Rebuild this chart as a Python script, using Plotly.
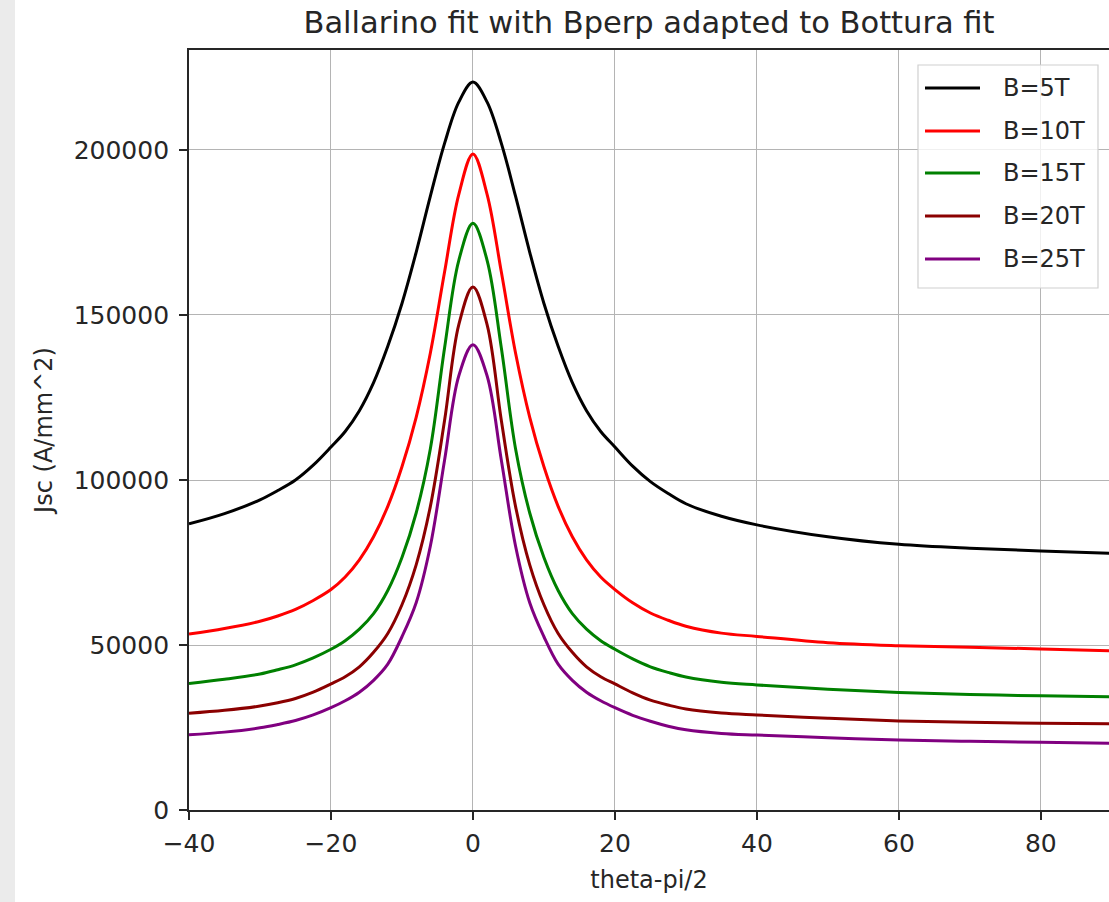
import plotly.graph_objects as go

theta = [-40, -35, -30, -27.5, -25, -22.5, -20, -18, -16, -14, -12, -10, -8, -6, -4, -2, 0,
         2, 4, 6, 8, 10, 12, 14, 16, 18, 20, 22.5, 25, 27.5, 30, 35, 40, 50, 60, 70, 80, 90]

jsc_5T = [86700, 89800, 94000, 96800, 100000, 104500, 110000, 114700, 121000, 129500, 140500, 153500, 169000, 186000, 202000, 214500, 220600,
          214500, 202000, 186000, 169000, 153500, 140500, 129500, 121000, 114700, 110000, 104200, 99500, 95900, 92800, 89000, 86400,
          82800, 80500, 79300, 78500, 77800]
jsc_10T = [53300, 55000, 57200, 58800, 60800, 63500, 66800, 70600, 75800, 82800, 92000, 104000, 119000, 138500, 163000, 186500, 198800,
           186500, 163000, 138500, 119000, 104000, 92000, 82800, 75800, 70600, 66800, 62800, 59700, 57500, 55700, 53600, 52600,
           50700, 49800, 49300, 48800, 48200]
jsc_15T = [38300, 39600, 41200, 42500, 44000, 46100, 48700, 51300, 54800, 59500, 66500, 76500, 90000, 109500, 140000, 166500, 177800,
           166500, 140000, 109500, 90000, 76500, 66500, 59500, 54800, 51300, 48700, 45800, 43400, 41700, 40300, 38700, 37900,
           36600, 35600, 35000, 34600, 34300]
jsc_20T = [29300, 30200, 31500, 32500, 33800, 35700, 38200, 40400, 43400, 47800, 53500, 62200, 74300, 92000, 118000, 147000, 158500,
           147000, 118000, 92000, 74300, 62200, 53500, 47800, 43400, 40400, 38200, 35500, 33300, 31800, 30600, 29400, 28800,
           27800, 27000, 26600, 26300, 26100]
jsc_25T = [22800, 23600, 24900, 25900, 27100, 28800, 31000, 33100, 35700, 39300, 44200, 52500, 62800, 80000, 106000, 131500, 141000,
           131500, 106000, 80000, 62800, 52500, 44200, 39300, 35700, 33100, 31000, 28700, 26900, 25400, 24300, 23200, 22700,
           21900, 21200, 20800, 20500, 20200]

series_names = ["B=5T", "B=10T", "B=15T", "B=20T", "B=25T"]
series_values = [jsc_5T, jsc_10T, jsc_15T, jsc_20T, jsc_25T]
series_colors = ["#000000", "#ff0000", "#008000", "#8b0000", "#800080"]

x_ticks = [-40, -20, 0, 20, 40, 60, 80]
y_ticks = [0, 50000, 100000, 150000, 200000]

FONT = "DejaVu Sans, Liberation Sans, sans-serif"
TXT = "#262626"

W, H = 1109, 902
L, R, T, B = 189, 0, 50, 92
pw = W - L - R
ph = H - T - B


def px_x(px):
    return (px - L) / pw


def px_y(py):
    return (H - B - py) / ph


fig = go.Figure()
for name, vals, col in zip(series_names, series_values, series_colors):
    fig.add_trace(go.Scatter(
        x=theta, y=vals, mode="lines", name=name, showlegend=False,
        line=dict(color=col, width=3, shape="spline", smoothing=1.0),
    ))

# manual legend (matplotlib style)
shapes = [
    dict(type="rect", xref="paper", yref="paper",
         x0=-L / pw, x1=(15 - L) / pw, y0=-B / ph, y1=(H - B) / ph + 0.1,
         fillcolor="#ebebeb", line=dict(width=0), layer="below"),
    dict(type="rect", xref="paper", yref="paper",
         x0=px_x(918), x1=px_x(1098), y0=px_y(288), y1=px_y(65),
         fillcolor="rgba(255,255,255,0.8)", line=dict(color="#d0d0d0", width=1.2), layer="above"),
]
annotations = []
row_y = [88, 131, 173, 216, 259]
for name, col, ry in zip(series_names, series_colors, row_y):
    shapes.append(dict(type="line", xref="paper", yref="paper",
                       x0=px_x(925), x1=px_x(980), y0=px_y(ry), y1=px_y(ry),
                       line=dict(color=col, width=3), layer="above"))
    annotations.append(dict(text=name, xref="paper", yref="paper",
                            x=px_x(1001), y=px_y(ry), xanchor="left", yanchor="middle",
                            showarrow=False, font=dict(size=24, color=TXT, family=FONT)))

fig.update_layout(
    width=W, height=H,
    margin=dict(l=L, r=R, t=T, b=B, pad=0),
    paper_bgcolor="white", plot_bgcolor="white",
    font=dict(family=FONT, size=24, color=TXT),
    title=dict(text="Ballarino fit with Bperp adapted to Bottura fit",
               x=0.5, xref="paper", xanchor="center",
               y=1 - 22 / H, yref="container", yanchor="middle",
               font=dict(size=30.5, color=TXT, family=FONT)),
    showlegend=False,
    shapes=shapes,
    annotations=annotations,
)

fig.update_xaxes(
    range=[-40, 89.6], tickmode="array", tickvals=x_ticks,
    showgrid=True, gridcolor="#b4b4b4", gridwidth=1.2,
    showline=True, linecolor="#262626", linewidth=1.8, mirror=True,
    ticks="outside", ticklen=8, tickwidth=1.6, tickcolor="#262626",
    zeroline=False, ticklabelstandoff=2,
    title=dict(text="theta-pi/2", standoff=14, font=dict(size=24, color=TXT, family=FONT)),
    tickfont=dict(size=25, color=TXT, family=FONT),
)
fig.update_yaxes(
    range=[0, 230300], tickmode="array", tickvals=y_ticks,
    ticktext=[str(v) for v in y_ticks],
    showgrid=True, gridcolor="#b4b4b4", gridwidth=1.2,
    showline=True, linecolor="#262626", linewidth=1.8, mirror=False,
    ticks="outside", ticklen=8, tickwidth=1.6, tickcolor="#262626",
    zeroline=False, ticklabelstandoff=5,
    title=dict(text="Jsc (A/mm^2)", standoff=14, font=dict(size=24, color=TXT, family=FONT)),
    tickfont=dict(size=25, color=TXT, family=FONT),
)

fig.write_html("out.html")
